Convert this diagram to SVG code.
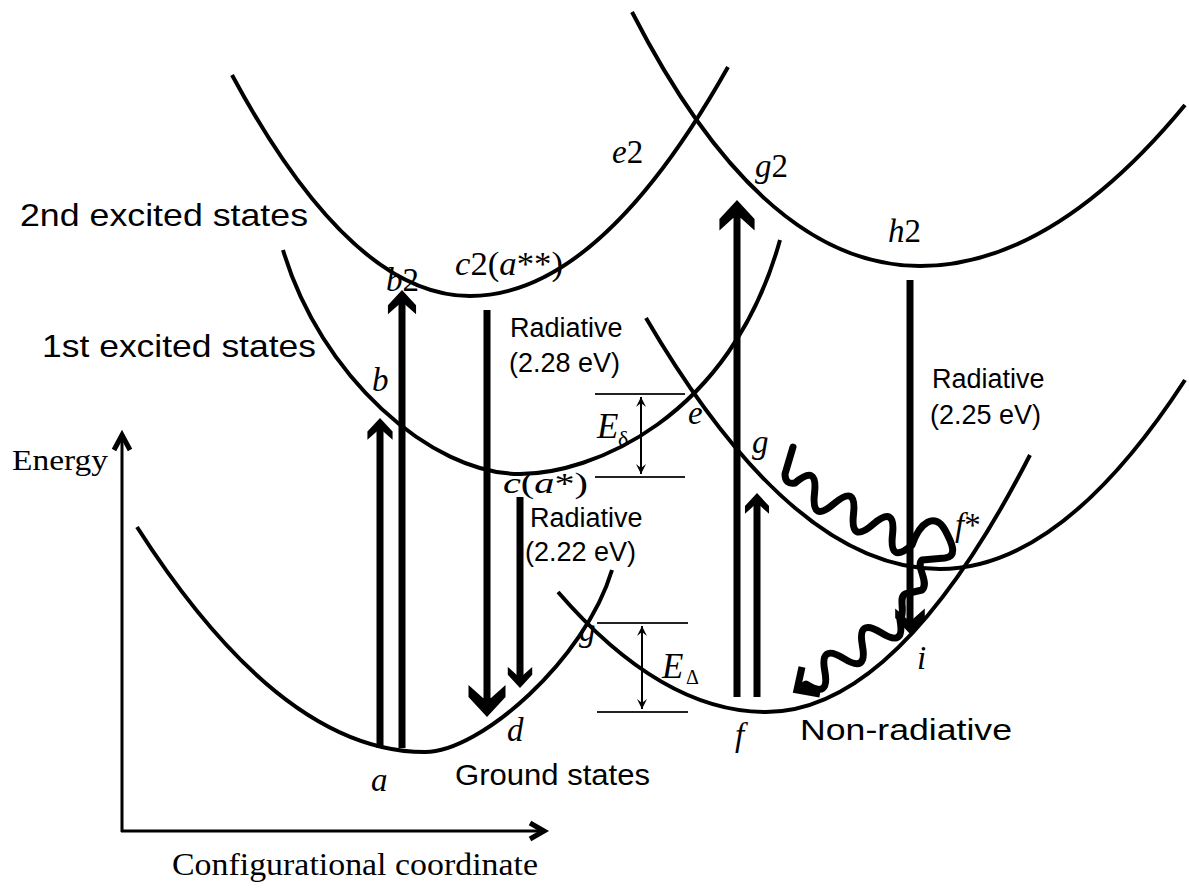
<svg xmlns="http://www.w3.org/2000/svg" width="1189" height="888" viewBox="0 0 1189 888">
<style>
.cv{fill:none;stroke:#000;stroke-width:4}
.sh{stroke:#000;stroke-width:7;fill:none}
.hd{fill:#000}
.sans{font-family:"Liberation Sans",Arial,sans-serif;fill:#000}
.ser{font-family:"Liberation Serif","Times New Roman",serif;fill:#000}
.it{font-style:italic}
.ax{stroke:#000;stroke-width:3;fill:none}
.axh{stroke:#000;stroke-width:5;fill:none;stroke-linejoin:miter}
.br{stroke:#222;stroke-width:2}
.dbl{stroke:#000;stroke-width:2;fill:none}
.wv{fill:none;stroke:#000;stroke-width:7;stroke-linejoin:round;stroke-linecap:round}
</style>
<defs>
<path id="head" d="M0,0 L18.5,20 L18.5,32 L4,19 L-4,19 L-18.5,32 L-18.5,20 Z"/>
<marker id="sm" markerUnits="userSpaceOnUse" markerWidth="14" markerHeight="14" refX="0" refY="0" viewBox="-12 -7 14 14" orient="auto-start-reverse"><path d="M0,0 L-10,-5 L-6,0 L-10,5 Z" fill="#000"/></marker>
</defs>
<rect width="1189" height="888" fill="#fff"/>

<g id="axes">
<line class="ax" x1="122" y1="832" x2="122" y2="438"/>
<polyline class="axh" points="114,450 122,435 130,450"/>
<line class="ax" x1="121" y1="831" x2="541" y2="831"/>
<polyline class="axh" points="530,823 544,831 530,839"/>
<text class="ser" x="12" y="470" font-size="30" textLength="96" lengthAdjust="spacingAndGlyphs">Energy</text>
<text class="ser" x="172" y="875" font-size="31" textLength="366" lengthAdjust="spacingAndGlyphs">Configurational coordinate</text>
</g>

<g id="second-excited-1">
<path class="cv" d="M232,75 Q351,296 470,296 Q599,296 728,67"/>
<text class="ser" x="386" y="291" font-size="33"><tspan class="it">b</tspan>2</text>
<text class="ser" x="455" y="275" font-size="33" textLength="108" lengthAdjust="spacingAndGlyphs"><tspan class="it">c</tspan>2(<tspan class="it">a</tspan>**)</text>
</g>
<g id="second-excited-2">
<path class="cv" d="M632,12 C695,135 790,266 920,266 Q1052,266 1185,105"/>
<text class="ser" x="612" y="163" font-size="33"><tspan class="it">e</tspan>2</text>
<text class="ser" x="755" y="177" font-size="33"><tspan class="it">g</tspan>2</text>
<text class="ser" x="888" y="242" font-size="33"><tspan class="it">h</tspan>2</text>
</g>
<g id="first-excited-1">
<path class="cv" d="M283,250 C320,375 430,474 520,474 C590,474 730,420 780,240"/>
<text class="ser it" x="372" y="391" font-size="33">b</text>
<text class="ser" x="503" y="493" font-size="30" textLength="85" lengthAdjust="spacingAndGlyphs"><tspan class="it">c</tspan>(<tspan class="it">a</tspan>*)</text>
</g>
<g id="first-excited-2">
<path class="cv" d="M646,318 Q793,569 940,569 Q1062,569 1185,380"/>
<text class="ser it" x="688" y="424" font-size="33">e</text>
<text class="ser it" x="752" y="453" font-size="33">g</text>
<text class="ser" x="955" y="536" font-size="33"><tspan class="it">f</tspan>*</text>
</g>
<g id="ground-1">
<path class="cv" d="M137,527 Q281,752 425,752 C480,752 585,660 612,570"/>
<text class="ser it" x="371" y="791" font-size="33">a</text>
<text class="ser it" x="507" y="741" font-size="33">d</text>
</g>
<g id="ground-2">
<path class="cv" d="M558,592 Q662,712 766,712 Q898,712 1030,455"/>
<text class="ser it" x="579" y="641" font-size="33">g</text>
<text class="ser it" x="917" y="669" font-size="33">i</text>
<text class="ser it" x="735" y="746" font-size="33">f</text>
</g>

<g id="state-labels">
<text class="sans" x="20" y="226" font-size="32" textLength="288" lengthAdjust="spacingAndGlyphs">2nd excited states</text>
<text class="sans" x="42" y="357" font-size="32" textLength="274" lengthAdjust="spacingAndGlyphs">1st excited states</text>
<text class="sans" x="455" y="785" font-size="30" textLength="195" lengthAdjust="spacingAndGlyphs">Ground states</text>
<text class="sans" x="800" y="740" font-size="30" textLength="212" lengthAdjust="spacingAndGlyphs">Non-radiative</text>
<text class="sans" x="510" y="337" font-size="27">Radiative</text>
<text class="sans" x="509" y="372" font-size="27">(2.28 eV)</text>
<text class="sans" x="530" y="527" font-size="27">Radiative</text>
<text class="sans" x="525" y="561" font-size="27">(2.22 eV)</text>
<text class="sans" x="932" y="388" font-size="27">Radiative</text>
<text class="sans" x="930" y="424" font-size="27">(2.25 eV)</text>
</g>

<g id="energy-gaps">
<line class="br" x1="595" y1="394" x2="685" y2="394"/>
<line class="br" x1="595" y1="477" x2="685" y2="477"/>
<line class="dbl" x1="641" y1="397" x2="641" y2="474" marker-start="url(#sm)" marker-end="url(#sm)"/>
<text class="ser it" x="597" y="438" font-size="35">E</text>
<text class="ser" x="618" y="446" font-size="22">δ</text>
<line class="br" x1="597" y1="623" x2="688" y2="623"/>
<line class="br" x1="597" y1="712" x2="688" y2="712"/>
<line class="dbl" x1="642" y1="626" x2="642" y2="709" marker-start="url(#sm)" marker-end="url(#sm)"/>
<text class="ser it" x="662" y="678" font-size="35">E</text>
<text class="ser" x="686" y="684" font-size="20">Δ</text>
</g>

<g id="connectors">
<line class="sh" x1="380" y1="748" x2="380" y2="428"/>
<use href="#head" class="hd" transform="translate(380,418) scale(0.68)"/>
<line class="sh" x1="402" y1="748" x2="402" y2="302"/>
<use href="#head" class="hd" transform="translate(402,290) scale(0.76)"/>
<line class="sh" x1="487" y1="310" x2="487" y2="702"/>
<use href="#head" class="hd" transform="translate(487,717) rotate(180)"/>
<line class="sh" x1="520" y1="497" x2="520" y2="678"/>
<use href="#head" class="hd" transform="translate(520,688) rotate(180) scale(0.66)"/>
<line class="sh" x1="737" y1="697" x2="737" y2="215"/>
<use href="#head" class="hd" transform="translate(737,200) scale(0.95)"/>
<line class="sh" x1="757" y1="697" x2="757" y2="503"/>
<use href="#head" class="hd" transform="translate(757,493) scale(0.65)"/>
<line class="sh" x1="910" y1="280" x2="910" y2="621"/>
<use href="#head" class="hd" transform="translate(910,634) rotate(180) scale(0.8)"/>
<path class="wv" d="M793,447 L785,474 Q785,485 795,483 Q817.9,463.4 814.5,493.3 Q811.2,523.3 834,503.7 Q856.9,484 853.5,514 Q850.2,544 873,524.3 Q895.9,504.7 892.5,534.7 Q889.2,564.6 912,545 C920,522 935,512 945,530 C952,543 958,556 945,558 L922,560 C915,566 930,582 922,590 L905,594 C898,598 906,612 900,620 Q905.2,647.9 881.2,632.8 Q857.2,617.7 862.4,645.6 Q867.6,673.5 843.6,658.4 Q819.6,643.3 824.8,671.2 Q830,699.1 806,684 L798,689"/>
<polyline class="wv" style="stroke-linejoin:miter;stroke-linecap:butt" points="802,667 797,690 820,694"/>
</g>
</svg>
